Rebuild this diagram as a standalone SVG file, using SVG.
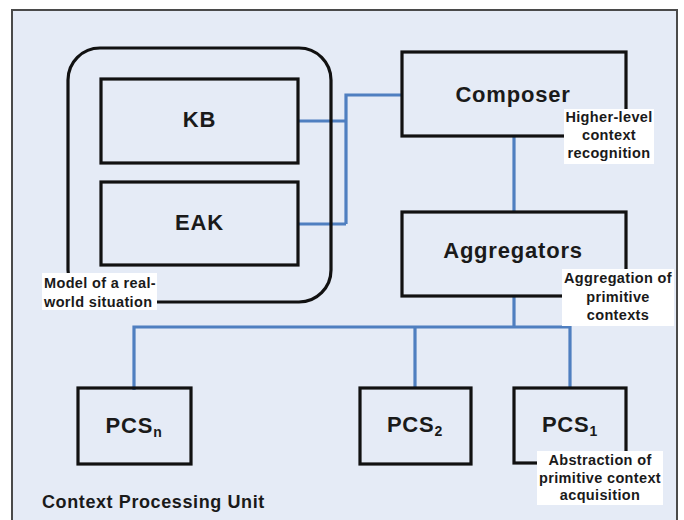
<svg xmlns="http://www.w3.org/2000/svg" width="684" height="520" viewBox="0 0 684 520">
  <style>
    .box{fill:none;stroke:#111;stroke-width:3.2}
    .main{font-family:"Liberation Sans",Arial,sans-serif;font-weight:bold;font-size:22px;letter-spacing:0.8px;fill:#1a1a1a;text-anchor:middle}
    .lbl{font-family:"Liberation Sans",Arial,sans-serif;font-weight:bold;font-size:14.5px;letter-spacing:0.35px;fill:#1a1a1a;text-anchor:middle}
    .lblbg{fill:#ffffff;stroke:none}
    .conn{fill:none;stroke:#4f7fc0;stroke-width:3.2}
    .sub{font-size:14px}
  </style>
  <rect width="684" height="520" fill="#ffffff"/>
  <rect id="frame" x="12" y="10" width="665" height="525" fill="#e5ebf6" stroke="#4a4a4a" stroke-width="2"/>

  <g id="connectors">
    <polyline class="conn" points="298,121 346,121"/>
    <polyline class="conn" points="298,224 346,224"/>
    <polyline class="conn" points="346,224 346,95 402,95"/>
    <polyline class="conn" points="514,136 514,212"/>
    <polyline class="conn" points="514,296 514,327"/>
    <polyline class="conn" points="134,390 134,327 570,327 570,388"/>
    <polyline class="conn" points="415,327 415,388"/>
  </g>

  <g id="model">
    <rect class="box" x="68" y="48" width="263" height="254" rx="32" ry="32"/>
  </g>
  <g id="kb">
    <rect class="box" x="101" y="79" width="197" height="84"/>
    <text class="main" x="199.5" y="127">KB</text>
  </g>
  <g id="eak">
    <rect class="box" x="101" y="182" width="197" height="83"/>
    <text class="main" x="199.5" y="230">EAK</text>
  </g>
  <g id="composer">
    <rect class="box" x="402" y="52" width="224" height="84"/>
    <text class="main" x="513" y="102">Composer</text>
  </g>
  <g id="aggregators">
    <rect class="box" x="402" y="212" width="224" height="84"/>
    <text class="main" x="513" y="258">Aggregators</text>
  </g>
  <g id="pcsn">
    <rect class="box" x="78" y="388" width="113" height="76"/>
    <text class="main" x="134" y="433">PCS<tspan class="sub" dy="4">n</tspan></text>
  </g>
  <g id="pcs2">
    <rect class="box" x="360" y="388" width="111" height="76"/>
    <text class="main" x="415" y="432">PCS<tspan class="sub" dy="4">2</tspan></text>
  </g>
  <g id="pcs1">
    <rect class="box" x="514" y="388" width="112" height="75"/>
    <text class="main" x="570" y="432">PCS<tspan class="sub" dy="4">1</tspan></text>
  </g>

  <g id="label-composer">
    <rect class="lblbg" x="564" y="109" width="90" height="55"/>
    <text class="lbl" x="609" y="122">Higher-level</text>
    <text class="lbl" x="609" y="140">context</text>
    <text class="lbl" x="609" y="158">recognition</text>
  </g>
  <g id="label-aggregators">
    <rect class="lblbg" x="562" y="269" width="112" height="57"/>
    <text class="lbl" x="618" y="283">Aggregation of</text>
    <text class="lbl" x="618" y="302">primitive</text>
    <text class="lbl" x="618" y="320">contexts</text>
  </g>
  <g id="label-model">
    <rect class="lblbg" x="42" y="273" width="115" height="37"/>
    <text class="lbl" x="44" y="288" style="text-anchor:start">Model of a real-</text>
    <text class="lbl" x="44" y="307" style="text-anchor:start">world situation</text>
  </g>
  <g id="label-pcs1">
    <rect class="lblbg" x="537" y="451" width="126" height="54"/>
    <text class="lbl" x="600" y="465">Abstraction of</text>
    <text class="lbl" x="600" y="483">primitive context</text>
    <text class="lbl" x="600" y="500">acquisition</text>
  </g>
  <text id="title" x="42" y="508" style="font-family:'Liberation Sans',Arial,sans-serif;font-weight:bold;font-size:18px;letter-spacing:0.6px;fill:#1a1a1a">Context Processing Unit</text>
</svg>
